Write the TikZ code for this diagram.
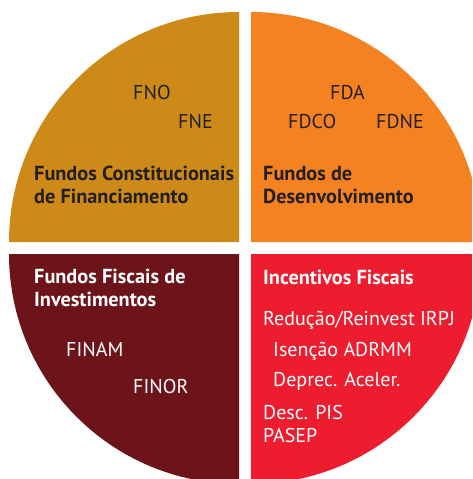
\documentclass[tikz,border=0pt]{standalone}
\usepackage{fontspec}
\setmainfont{PT Sans}
\definecolor{ouro}{RGB}{206,138,24}
\definecolor{laranja}{RGB}{244,130,32}
\definecolor{vinho}{RGB}{108,20,25}
\definecolor{vermelho}{RGB}{237,28,46}
\definecolor{tinta}{RGB}{35,31,32}
\tikzset{
	sigla/.style={anchor=base west,inner sep=0pt,font=\fontsize{20}{22.7}\selectfont},
	titulo/.style={anchor=base west,inner sep=0pt,align=left,font=\bfseries\fontsize{20.3}{22.7}\selectfont},
}

\begin{document}
\begin{tikzpicture}[x=1pt,y=-1pt]
		\useasboundingbox (0,0) rectangle (472,479);
		\clip (0,0) rectangle (472,479);
		\fill[ouro] (239,242) -- ++(-230pt,0pt) arc[start angle=180,end angle=90,radius=230pt] -- cycle;
		\fill[laranja] (251,242) -- ++(0pt,230pt) arc[start angle=90,end angle=0,radius=230pt] -- cycle;
		\fill[vinho] (239,254) -- ++(-230pt,0pt) arc[start angle=180,end angle=270,radius=230pt] -- cycle;
		\fill[vermelho] (251,254) -- ++(230pt,0pt) arc[start angle=0,end angle=-90,radius=230pt] -- cycle;
		\node[sigla,tinta] (fno) at (133,99) {FNO};
		\node[sigla,tinta] (fne) at (178,128) {FNE};
		\node[titulo,tinta] (fconst) at (34,203) {Fundos Constitucionais\\de Financiamento};
		\node[sigla,tinta] (fda) at (330,99) {FDA};
		\node[sigla,tinta] (fdco) at (288,128) {FDCO};
		\node[sigla,tinta] (fdne) at (376,128) {FDNE};
		\node[titulo,tinta] (fdesenv) at (263,203) {Fundos de\\Desenvolvimento};
		\node[titulo,white] (ffiscais) at (34,306) {Fundos Fiscais de\\Investimentos};
		\node[sigla,white] (finam) at (66,356) {FINAM};
		\node[sigla,white] (finor) at (133,393) {FINOR};
		\node[titulo,white] (incent) at (263,284) {Incentivos Fiscais};
		\node[sigla,white] (irpj) at (263,325) {Redução/Reinvest IRPJ};
		\node[sigla,white] (adrmm) at (273,356) {Isenção ADRMM};
		\node[sigla,white] (deprec) at (273,386) {Deprec. Aceler.};
		\node[sigla,white,align=left] (pis) at (263,442) {Desc. PIS\\PASEP};
	\end{tikzpicture}
\end{document}
